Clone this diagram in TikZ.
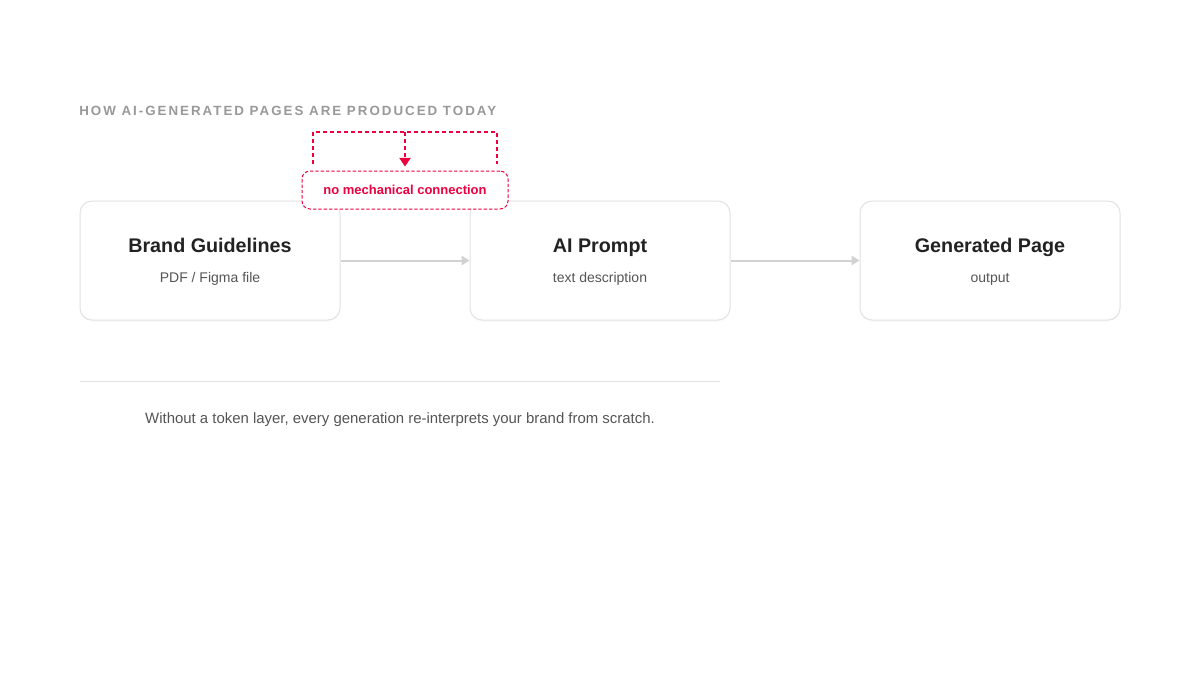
\documentclass[tikz,border=0pt]{standalone}
\usepackage{fontspec}
\setmainfont{Liberation Sans}
\newfontfamily\trackedfont[LetterSpace=15]{Liberation Sans}
\usepackage{xcolor}
\usetikzlibrary{arrows.meta}
\usetikzlibrary{shadows}

\definecolor{cardline}{HTML}{E2E2E2}
\definecolor{flowgray}{HTML}{D2D2D2}
\definecolor{notered}{HTML}{EC0040}
\definecolor{inkdark}{HTML}{222222}
\definecolor{inkmid}{HTML}{555555}
\definecolor{inklight}{HTML}{999999}

\begin{document}
\begin{tikzpicture}[
        x=0.75pt, y=-0.75pt,
        card/.style={draw=cardline, fill=white, line width=0.75pt, rounded corners=9pt,
            minimum width=195pt, minimum height=89.25pt,
            drop shadow={shadow xshift=0pt, shadow yshift=-1pt, opacity=0.05}},
        heading/.style={anchor=base, font=\bfseries\fontsize{14.8}{17}\selectfont, text=inkdark},
        subline/.style={anchor=base, font=\fontsize{10.5}{13}\selectfont, text=inkmid},
        flow/.style={draw=flowgray, line width=1.5pt, -{Triangle[length=6pt, width=7pt]}},
        notebox/.style={draw=notered, fill=white, line width=0.75pt, rounded corners=6pt,
            dash pattern=on 2.5pt off 1.5pt, minimum width=154.5pt, minimum height=28.5pt,
            text=notered, font=\bfseries\fontsize{9.75}{12}\selectfont},
        bracket/.style={draw=notered, line width=1.1pt, dash pattern=on 3pt off 2.25pt}
    ]

    % -- Cadre de la page --
    \useasboundingbox[fill=white] (0,0) rectangle (1200,675);

    % -- Titre --
    \node[anchor=base west, inner sep=0pt, text=inklight, font=\trackedfont\bfseries\fontsize{10}{12}\selectfont]
        (title) at (79,115) {HOW AI-GENERATED PAGES ARE PRODUCED TODAY};

    % -- Position des cartes --
    \node[card] (guide)  at (210,260.5) {};
    \node[card] (prompt) at (600,260.5) {};
    \node[card] (page)   at (990,260.5) {};

    % -- Textes des cartes --
    \node[heading] (guideTitle)  at (210,252.5) {Brand Guidelines};
    \node[subline] (guideSub)    at (210,282.5) {PDF / Figma file};
    \node[heading] (promptTitle) at (600,252.5) {AI Prompt};
    \node[subline] (promptSub)   at (600,282.5) {text description};
    \node[heading] (pageTitle)   at (990,252.5) {Generated Page};
    \node[subline] (pageSub)     at (990,282.5) {output};

    % -- Fleches --
    % guide -> prompt :
    \draw[flow] (guide.east) -- (prompt.west);

    % prompt -> page :
    \draw[flow] (prompt.east) -- (page.west);

    % -- Remarque en pointilles --
    \node[notebox] (note) at (405,190) {no mechanical connection};

    \coordinate (brLeft)  at (313,164);
    \coordinate (brRight) at (497,164);
    \coordinate (brTop)   at (405,132);
    \draw[bracket] (brLeft) |- (brTop) -| (brRight);
    \draw[bracket, -{Triangle[length=6.5pt, width=8.5pt]}, shorten >=3pt] (brTop) -- (note.north);

    % -- Separateur et legende --
    \coordinate (divLeft)  at (80,381);
    \coordinate (divRight) at (720,381);
    \draw[draw=cardline, line width=0.75pt] (divLeft) -- (divRight);

    \node[anchor=base, text=inkmid, font=\fontsize{11.2}{13}\selectfont]
        (footer) at (400,423) {Without a token layer, every generation re-interprets your brand from scratch.};

\end{tikzpicture}
\end{document}
